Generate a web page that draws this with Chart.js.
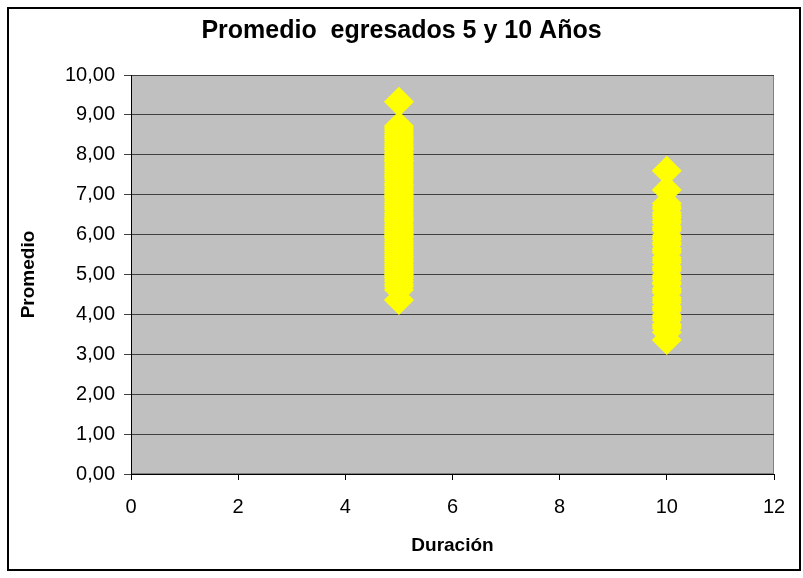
<!DOCTYPE html>
<html><head><meta charset="utf-8">
<script src="https://cdn.jsdelivr.net/npm/chart.js@4.4.1/dist/chart.umd.min.js"></script>
<style>html,body{margin:0;padding:0;background:#fff;overflow:hidden}#wrap{position:absolute;left:0;top:0;width:803px;height:578px}</style>
</head><body><div id="wrap"><canvas id="c" width="803" height="578"></canvas></div>
<script>
const chartTitle = 'Promedio  egresados 5 y 10 Años';
const xAxisTitle = 'Duración';
const yAxisTitle = 'Promedio';
const duraciones = [5, 10];
const promedio5 = [9.33, 8.72, 8.67, 8.62, 8.56, 8.5, 8.45, 8.41, 8.35, 8.3, 8.25, 8.2, 8.16, 8.12, 8.06, 8.0, 7.95, 7.9, 7.86, 7.83, 7.77, 7.71, 7.66, 7.6, 7.55, 7.5, 7.46, 7.42, 7.36, 7.3, 7.25, 7.21, 7.15, 7.1, 7.05, 7.0, 6.96, 6.92, 6.86, 6.8, 6.75, 6.7, 6.66, 6.61, 6.55, 6.5, 6.45, 6.4, 6.37, 6.33, 6.26, 6.2, 6.15, 6.1, 6.05, 6.0, 5.96, 5.92, 5.86, 5.8, 5.75, 5.7, 5.65, 5.6, 5.55, 5.5, 5.45, 5.4, 5.35, 5.31, 5.25, 5.2, 5.15, 5.1, 5.05, 5.0, 4.95, 4.9, 4.84, 4.76, 4.7, 4.62, 4.36];
const promedio10 = [7.6, 7.12, 6.78, 6.7, 6.65, 6.55, 6.48, 6.42, 6.35, 6.3, 6.2, 6.15, 6.1, 5.98, 5.92, 5.88, 5.8, 5.75, 5.65, 5.6, 5.55, 5.42, 5.36, 5.3, 5.2, 5.15, 5.1, 4.98, 4.93, 4.88, 4.8, 4.76, 4.65, 4.6, 4.55, 4.42, 4.36, 4.3, 4.2, 4.15, 4.1, 3.98, 3.92, 3.86, 3.75, 3.7, 3.65, 3.55, 3.36];
const yTickLabels = ['0,00','1,00','2,00','3,00','4,00','5,00','6,00','7,00','8,00','9,00','10,00'];
const xTickLabels = ['0','2','4','6','8','10','12'];

const FONT = "'Liberation Sans', Arial, sans-serif";

const framePlugin = {
  id: 'frame',
  beforeDraw(chart) {
    const {ctx, chartArea: a} = chart;
    ctx.save();
    ctx.fillStyle = '#ffffff';
    ctx.fillRect(0, 0, chart.width, chart.height);
    ctx.strokeStyle = '#000000';
    ctx.lineWidth = 2;
    ctx.strokeRect(8, 8, 792, 562);
    ctx.fillStyle = '#c0c0c0';
    ctx.fillRect(a.left, a.top, a.right - a.left, a.bottom - a.top);
    ctx.strokeStyle = '#808080';
    ctx.lineWidth = 1;
    ctx.strokeRect(a.left + 0.5, a.top + 0.5, a.right - a.left - 1, a.bottom - a.top - 1);
    ctx.restore();
  }
};

const mk = (x, arr) => arr.map(v => ({x: x, y: v}));

new Chart(document.getElementById('c'), {
  type: 'scatter',
  data: {
    datasets: [
      {label: '5', data: mk(duraciones[0], promedio5)},
      {label: '10', data: mk(duraciones[1], promedio10)}
    ].map(d => Object.assign(d, {
      pointStyle: 'rectRot', pointRadius: 15, pointHoverRadius: 15,
      backgroundColor: '#ffff00', borderColor: '#ffff00', borderWidth: 0
    }))
  },
  options: {
    responsive: false,
    devicePixelRatio: 1,
    animation: false,
    events: [],
    layout: {padding: {left: 0, right: 0, top: 0, bottom: 0}},
    plugins: {
      legend: {display: false},
      tooltip: {enabled: false},
      title: {
        display: true, text: chartTitle, color: '#000',
        font: {family: FONT, size: 25, weight: 'bold'},
        padding: {top: 16, bottom: 29}
      }
    },
    scales: {
      x: {
        type: 'linear', min: 0, max: 12,
        afterFit: s => { s.height = 104; },
        ticks: {stepSize: 2, color: '#000', font: {family: FONT, size: 20}, padding: 15,
          callback: (v, i) => xTickLabels[i]},
        grid: {drawOnChartArea: false, drawTicks: true, tickLength: 6, color: '#000'},
        border: {color: '#000', width: 1},
        title: {display: true, text: xAxisTitle, color: '#000',
          font: {family: FONT, size: 19, weight: 'bold'}, padding: {top: 0, bottom: 21}}
      },
      y: {
        min: 0, max: 10,
        afterFit: s => { s.width = 131; },
        ticks: {stepSize: 1, color: '#000', font: {family: FONT, size: 20}, padding: 9,
          callback: (v, i) => yTickLabels[i]},
        grid: {color: '#404040', tickLength: 7, drawTicks: true},
        border: {color: '#000', width: 1},
        title: {display: true, text: yAxisTitle, color: '#000',
          font: {family: FONT, size: 19, weight: 'bold'}, padding: {top: 17, bottom: 0}}
      },
      yRight: {
        position: 'right', min: 0, max: 10,
        afterFit: s => { s.width = 29; },
        ticks: {display: false},
        grid: {display: false, drawTicks: false},
        border: {display: false}
      }
    }
  },
  plugins: [framePlugin]
});
</script>
</body></html>
